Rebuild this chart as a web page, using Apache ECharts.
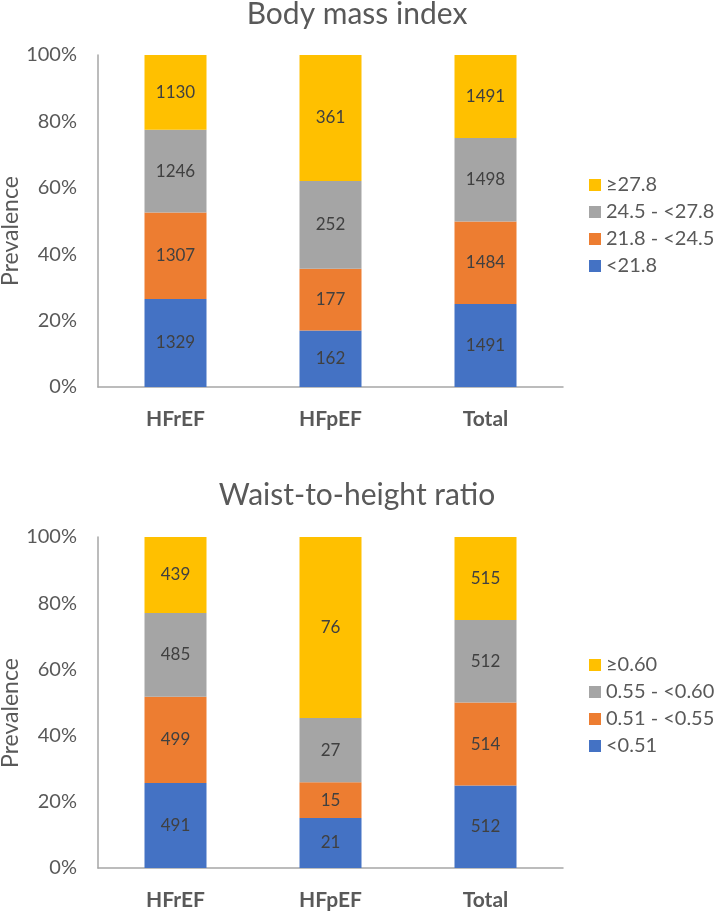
<!DOCTYPE html>
<html>
<head>
<meta charset="utf-8">
<script src="https://cdn.jsdelivr.net/npm/echarts@6/dist/echarts.min.js"></script>
<style>
html,body{margin:0;padding:0;background:#fff;}
#c{width:715px;height:915px;}
</style>
</head>
<body>
<div id="c"></div>
<script>
var categories = ['HFrEF', 'HFpEF', 'Total'];
var yTicks = [0, 20, 40, 60, 80, 100];
var yAxisTitle = 'Prevalence';

var bmiTitle = 'Body mass index';
var bmiNames = ['<21.8', '21.8 - <24.5', '24.5 - <27.8', '\u226527.8'];
var bmiLow = [1329, 162, 1491];
var bmiMidLow = [1307, 177, 1484];
var bmiMidHigh = [1246, 252, 1498];
var bmiHigh = [1130, 361, 1491];

var whrTitle = 'Waist-to-height ratio';
var whrNames = ['<0.51', '0.51 - <0.55', '0.55 - <0.60', '\u22650.60'];
var whrLow = [491, 21, 512];
var whrMidLow = [499, 15, 514];
var whrMidHigh = [485, 27, 512];
var whrHigh = [439, 76, 515];

var colors = ['#4472C4', '#ED7D31', '#A5A5A5', '#FFC000'];
var FONT = 'Lato, "Noto Sans", sans-serif';
var TXT = '#595959';
var AX = '#A6A6A6';

function toPct(groups) {
  var totals = categories.map(function (_, i) {
    return groups.reduce(function (s, g) { return s + g[i]; }, 0);
  });
  return groups.map(function (g) {
    return g.map(function (v, i) { return v / totals[i] * 100; });
  });
}

function buildSeries(names, groups, gridIdx) {
  var pct = toPct(groups);
  return names.map(function (n, k) {
    return {
      name: n,
      type: 'bar',
      stack: 'g' + gridIdx,
      xAxisIndex: gridIdx,
      yAxisIndex: gridIdx,
      barWidth: 62,
      itemStyle: { color: colors[k] },
      label: {
        show: true,
        position: 'inside',
        color: '#404040',
        fontSize: 17,
        fontFamily: FONT,
        formatter: function (p) { return String(groups[k][p.dataIndex]); }
      },
      emphasis: { disabled: true },
      data: pct[k]
    };
  });
}

var series = buildSeries(bmiNames, [bmiLow, bmiMidLow, bmiMidHigh, bmiHigh], 0)
  .concat(buildSeries(whrNames, [whrLow, whrMidLow, whrMidHigh, whrHigh], 1));

function xAxis(idx) {
  return {
    type: 'category', gridIndex: idx, data: categories,
    axisTick: { show: false },
    axisLine: { lineStyle: { color: AX, width: 1.5 } },
    axisLabel: { color: TXT, fontSize: 21, fontWeight: 'bold', fontFamily: FONT, margin: 22 }
  };
}
function yAxis(idx) {
  return {
    type: 'value', gridIndex: idx, min: yTicks[0], max: yTicks[yTicks.length - 1], interval: yTicks[1] - yTicks[0],
    axisLine: { show: true, lineStyle: { color: AX, width: 1.5 } },
    axisTick: { show: false },
    splitLine: { show: false },
    axisLabel: { color: TXT, fontSize: 20, fontFamily: FONT, margin: 21, formatter: '{value}%' }
  };
}
function legend(names, top) {
  return {
    orient: 'vertical', left: 589, top: top, padding: 0,
    data: names.slice().reverse(),
    icon: 'rect', itemWidth: 12, itemHeight: 12, itemGap: 7,
    textStyle: { color: TXT, fontSize: 20, lineHeight: 20, fontFamily: FONT },
    selectedMode: false
  };
}
function yName(cy) {
  return {
    type: 'text', x: 11, y: cy, rotation: Math.PI / 2,
    style: {
      text: yAxisTitle, fill: TXT, font: '23px ' + FONT,
      align: 'center', verticalAlign: 'middle',
      textAlign: 'center', textVerticalAlign: 'middle'
    }
  };
}

var chart = echarts.init(document.getElementById('c'), null, { renderer: 'canvas' });
chart.setOption({
  animation: false,
  backgroundColor: '#fff',
  title: [
    { text: bmiTitle, left: 352, textAlign: 'center', top: -6,
      textStyle: { color: TXT, fontSize: 30, fontWeight: 'normal', fontFamily: FONT } },
    { text: whrTitle, left: 352, textAlign: 'center', top: 475,
      textStyle: { color: TXT, fontSize: 30, fontWeight: 'normal', fontFamily: FONT } }
  ],
  legend: [legend(bmiNames, 175), legend(whrNames, 655)],
  grid: [
    { left: 98, top: 55, width: 465, height: 332, outerBoundsMode: 'none', containLabel: false },
    { left: 98, top: 537, width: 465, height: 331, outerBoundsMode: 'none', containLabel: false }
  ],
  graphic: [yName(231), yName(713)],
  xAxis: [xAxis(0), xAxis(1)],
  yAxis: [yAxis(0), yAxis(1)],
  series: series
});
</script>
</body>
</html>
